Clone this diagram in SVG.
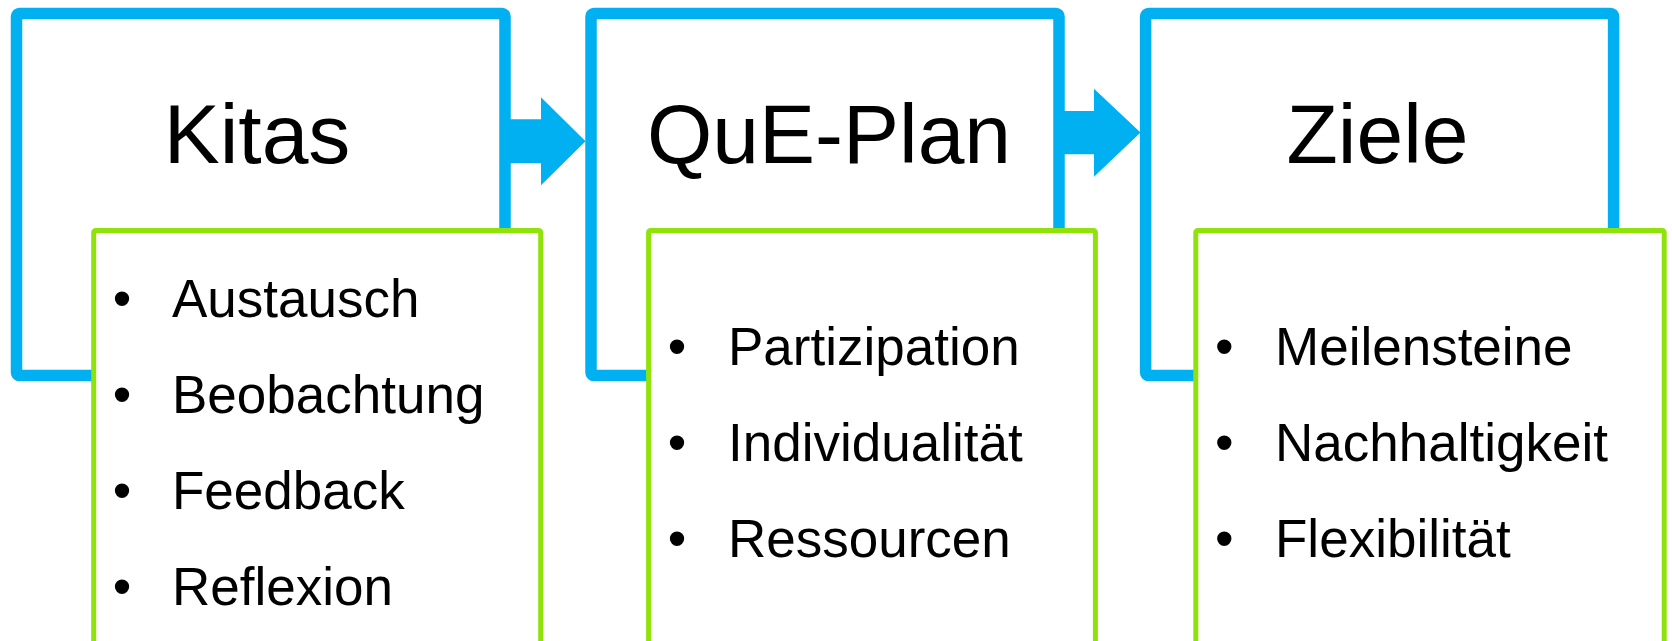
<svg xmlns="http://www.w3.org/2000/svg" width="1672" height="641" viewBox="0 0 1672 641">
<style>
.blue{fill:#FFFFFF;stroke:#00B0F0;stroke-width:11.5}
.green{fill:#FFFFFF;stroke:#8FE30A;stroke-width:5}
.arrow{fill:#00B0F0;stroke:none}
.title{font-family:"Liberation Sans",Arial,sans-serif;font-size:84px;fill:#000000;text-anchor:middle}
.item{font-family:"Liberation Sans",Arial,sans-serif;font-size:53px;fill:#000000}
</style>
<rect x="0" y="0" width="1672" height="641" fill="#FFFFFF"/>
<g id="connectors">
<polygon class="arrow" points="505,119.3 541,119.3 541,97.3 585.5,141.3 541,185.3 541,163.3 505,163.3"/>
<polygon class="arrow" points="1059,111 1094,111 1094,88.7 1140.5,132.5 1094,176.7 1094,154.3 1059,154.3"/>
</g>
<g id="node-kitas">
<rect class="blue" x="16.5" y="13.5" width="488.5" height="362" rx="3"/>
<text class="title" x="257" y="163">Kitas</text>
</g>
<g id="node-queplan">
<rect class="blue" x="591" y="13.5" width="468" height="362" rx="3"/>
<text class="title" x="829" y="163">QuE-Plan</text>
</g>
<g id="node-ziele">
<rect class="blue" x="1145.6" y="13.5" width="468" height="362" rx="3"/>
<text class="title" x="1377.5" y="163">Ziele</text>
</g>
<g id="list-kitas">
<rect class="green" x="93.7" y="230.5" width="447" height="440" rx="2"/>
<text class="item" x="112.7" y="317.3">•</text><text class="item" x="172" y="317.3">Austausch</text>
<text class="item" x="112.7" y="413.3">•</text><text class="item" x="172" y="413.3">Beobachtung</text>
<text class="item" x="112.7" y="509">•</text><text class="item" x="172" y="509">Feedback</text>
<text class="item" x="112.7" y="605">•</text><text class="item" x="172" y="605">Reflexion</text>
</g>
<g id="list-queplan">
<rect class="green" x="648.6" y="230.5" width="446.8" height="440" rx="2"/>
<text class="item" x="667.7" y="365">•</text><text class="item" x="728" y="365">Partizipation</text>
<text class="item" x="667.7" y="461">•</text><text class="item" x="728" y="461">Individualität</text>
<text class="item" x="667.7" y="557">•</text><text class="item" x="728" y="557">Ressourcen</text>
</g>
<g id="list-ziele">
<rect class="green" x="1195.8" y="230.5" width="468.4" height="440" rx="2"/>
<text class="item" x="1214.9" y="365">•</text><text class="item" x="1275" y="365">Meilensteine</text>
<text class="item" x="1214.9" y="461">•</text><text class="item" x="1275" y="461">Nachhaltigkeit</text>
<text class="item" x="1214.9" y="557">•</text><text class="item" x="1275" y="557">Flexibilität</text>
</g>
</svg>
